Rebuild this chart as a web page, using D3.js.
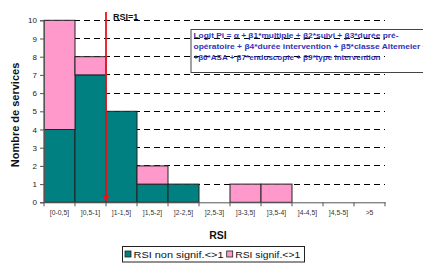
<!DOCTYPE html>
<html><head><meta charset="utf-8">
<script src="https://cdn.jsdelivr.net/npm/d3@7"></script>
<style>body{margin:0;background:#fff;}svg{display:block;font-family:Arial,"Liberation Sans",sans-serif;}</style>
</head><body>
<svg id="c" width="423" height="266"></svg>
<script>
const categories = ["[0-0,5]","]0,5-1]","]1-1,5]","]1,5-2]","]2-2,5]","]2,5-3]","]3-3,5]","]3,5-4]","]4-4,5]","]4,5-5]",">5"];
const nonSignif = [4,7,5,1,1,0,0,0,0,0,0];
const signif = [6,1,0,1,0,0,1,1,0,0,0];
const yTicks = [0,1,2,3,4,5,6,7,8,9,10];
const seriesNames = ["RSI non signif.<>1","RSI signif.<>1"];
const colors = ["#008080","#FF99CC"];
const rsiMarker = 1; // boundary after category index 1
const formulaLines = [
  "Logit Pi = \u03b1 + \u03b21*multiple +  \u03b22*suivi + \u03b23*durée pré-",
  "opératoire + \u03b24*durée intervention +  \u03b25*classe Altemeier +",
  "+\u03b26*ASA + \u03b27*endoscopie + \u03b29*type intervention"
];

const svg = d3.select("#c");
const m = {l:44, r:385, t:20.3, b:202.3};
const x = d3.scaleBand().domain(categories).range([m.l, m.r]).padding(0);
const y = d3.scaleLinear().domain([0,10]).range([m.b, m.t]);

// gridlines
svg.append("g").selectAll("line").data(yTicks.filter(d=>d>0)).join("line")
  .attr("x1", m.l).attr("x2", m.r).attr("y1", d=>y(d)).attr("y2", d=>y(d))
  .attr("stroke","#000").attr("stroke-width",1).attr("stroke-dasharray","6,4")
  .attr("shape-rendering","crispEdges");

// stacked bars
const data = categories.map((c,i)=>({cat:c, a:nonSignif[i], b:signif[i]}));
const stack = d3.stack().keys(["a","b"])(data);
stack.forEach((s,si)=>{
  svg.append("g").selectAll("rect").data(s.filter(d=>d[1]-d[0]>0)).join("rect")
    .attr("x", d=>x(d.data.cat)).attr("width", x.bandwidth())
    .attr("y", d=>y(d[1])).attr("height", d=>y(d[0])-y(d[1]))
    .attr("fill", colors[si]).attr("stroke","#222").attr("stroke-width",1);
});

// y axis
const ya = svg.append("g").attr("transform",`translate(${m.l},0)`)
  .call(d3.axisLeft(y).tickValues(yTicks).tickSize(4).tickPadding(3));
ya.select(".domain").attr("stroke","#555");
ya.selectAll(".tick line").attr("stroke","#555");
ya.selectAll("text").attr("font-size","8px").attr("fill","#222");

// x axis
const xa = svg.append("g").attr("transform",`translate(0,${m.b})`)
  .call(d3.axisBottom(x).tickSize(0).tickPadding(8));
xa.select(".domain").attr("stroke","#555");
xa.selectAll("text").attr("font-size","6.8px").attr("fill","#333");
const bounds = categories.map(c=>x(c)).concat([m.r]);
svg.append("g").selectAll("line").data(bounds).join("line")
  .attr("x1",d=>d).attr("x2",d=>d).attr("y1",m.b).attr("y2",m.b+4)
  .attr("stroke","#555");

// red RSI=1 marker
const rx = x(categories[rsiMarker]) + x.bandwidth();
svg.append("line").attr("x1",rx).attr("x2",rx).attr("y1",12).attr("y2",m.b-5)
  .attr("stroke","#E8141A").attr("stroke-width",1.8);
svg.append("path").attr("d",`M${rx-3.5},${m.b-7}L${rx+3.5},${m.b-7}L${rx},${m.b}Z`).attr("fill","#E8141A");
svg.append("text").attr("x",rx+7).attr("y",20).attr("font-size","9px").attr("font-weight","bold").attr("fill","#111").text("RSI=1");

// formula box
svg.append("rect").attr("x",191).attr("y",29.5).attr("width",240).attr("height",43)
  .attr("fill","none").attr("stroke","#444").attr("stroke-width",1);
const lineLens = [205, 234, 187];
svg.append("g").selectAll("text").data(formulaLines).join("text")
  .attr("x",193.5).attr("y",(d,i)=>37.8+i*10.9)
  .attr("textLength",(d,i)=>lineLens[i]).attr("lengthAdjust","spacingAndGlyphs")
  .attr("font-size","7.3px").attr("font-weight","bold").attr("fill","#3333BB").text(d=>d);

// axis titles
svg.append("text").attr("transform","translate(18.5,115) rotate(-90)").attr("text-anchor","middle")
  .attr("font-size","11px").attr("font-weight","bold").attr("fill","#111").text("Nombre de services");
svg.append("text").attr("x",218).attr("y",238.5).attr("text-anchor","middle")
  .attr("font-size","10.5px").attr("font-weight","bold").attr("fill","#111").text("RSI");

// legend
svg.append("rect").attr("x",122.5).attr("y",246.5).attr("width",182).attr("height",15.5)
  .attr("fill","#fff").attr("stroke","#222");
const lx = [125, 226.7];
const legLens = [90, 65];
seriesNames.forEach((n,i)=>{
  svg.append("rect").attr("x",lx[i]).attr("y",251).attr("width",6).attr("height",6)
    .attr("fill",colors[i]).attr("stroke","#222").attr("stroke-width",0.8);
  svg.append("text").attr("x",lx[i]+8.5).attr("y",257.8).attr("font-size","9.5px")
    .attr("textLength",legLens[i]).attr("lengthAdjust","spacingAndGlyphs")
    .attr("fill","#111").text(n);
});
</script>
</body></html>
